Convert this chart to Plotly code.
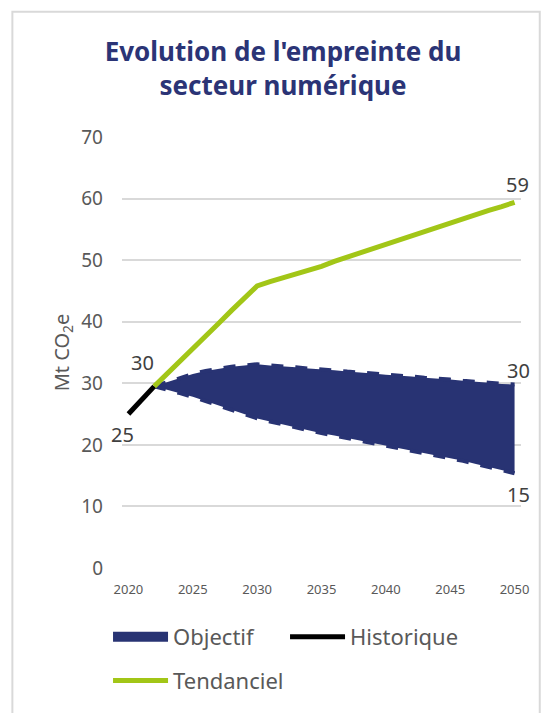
import plotly.graph_objects as go

years_hist = [2020, 2021, 2022]
historique = [25.0, 27.3, 29.5]

years_proj = list(range(2022, 2051))
tendanciel = [29.5, 31.5, 33.6, 35.6, 37.7, 39.7, 41.8, 43.8, 45.8,
              46.5, 47.1, 47.7, 48.3, 49.0, 49.8, 50.5, 51.2, 52.0, 52.7,
              53.4, 54.1, 54.8, 55.5, 56.2, 56.9, 57.5, 58.1, 58.7, 59.4]
objectif_haut = [29.5, 30.2, 30.9, 31.5, 32.0, 32.4, 32.7, 32.9, 33.1,
                 32.9, 32.8, 32.6, 32.4, 32.3, 32.1, 31.9, 31.8, 31.6, 31.4,
                 31.3, 31.1, 30.9, 30.8, 30.6, 30.4, 30.3, 30.1, 29.9, 29.8]
objectif_bas = [29.5, 29.0, 28.4, 27.8, 27.1, 26.4, 25.6, 24.9, 24.3,
                23.8, 23.3, 22.8, 22.3, 21.9, 21.5, 21.1, 20.7, 20.3, 19.9,
                19.5, 19.1, 18.7, 18.3, 17.9, 17.4, 16.9, 16.4, 15.9, 15.4]

x_ticks = [2020, 2025, 2030, 2035, 2040, 2045, 2050]
y_ticks = [0, 10, 20, 30, 40, 50, 60, 70]

NAVY = "#283373"
GREEN = "#A2C617"
GREY_TXT = "#595959"
FONT = "Noto Sans"

fig = go.Figure()

# legend-only entry for the band (solid swatch)
fig.add_trace(go.Scatter(x=[None], y=[None], mode="lines", name="Objectif",
                         line=dict(color=NAVY, width=13), legend="legend"))
fig.add_trace(go.Scatter(x=years_proj, y=objectif_haut, mode="lines",
                         line=dict(color=NAVY, width=4, dash="dash"),
                         showlegend=False, hoverinfo="skip"))
fig.add_trace(go.Scatter(x=years_proj, y=objectif_bas, mode="lines",
                         line=dict(color=NAVY, width=4, dash="dash"),
                         fill="tonexty", fillcolor=NAVY,
                         name="Objectif", showlegend=False))
fig.add_trace(go.Scatter(x=years_hist, y=historique, mode="lines",
                         line=dict(color="#000000", width=5),
                         name="Historique", legend="legend"))
fig.add_trace(go.Scatter(x=years_proj, y=tendanciel, mode="lines",
                         line=dict(color=GREEN, width=5),
                         name="Tendanciel", legend="legend2"))

# data labels
lab_font = dict(family=FONT, size=20, color="#404040")
labels = [
    (years_hist[0], historique[0], -6, -20),
    (years_hist[-1], historique[-1], -12, 24),
    (years_proj[-1], tendanciel[-1], 3, 18),
    (years_proj[-1], objectif_haut[-1], 4, 14),
    (years_proj[-1], objectif_bas[-1], 4, -21),
]
for xv, yv, dx, dy in labels:
    fig.add_annotation(x=xv, y=yv, text=f"{round(yv)}", showarrow=False,
                       xshift=dx, yshift=dy, font=lab_font)

# outer frame
fig.add_shape(type="rect", xref="paper", yref="paper",
              x0=(11 - 122) / 404, x1=(545 - 122) / 404,
              y0=(570.7 - 720) / 433.7, y1=(570.7 - 11) / 433.7,
              line=dict(color="#D9D9D9", width=2), fillcolor="rgba(0,0,0,0)",
              layer="below")

fig.update_layout(
    width=541, height=713,
    margin=dict(l=122, r=15, t=137, b=142),
    paper_bgcolor="white", plot_bgcolor="white",
    font=dict(family=FONT, color=GREY_TXT),
    title=dict(text="<b>Evolution de l'empreinte du<br>secteur numérique</b>",
               x=283 / 541, xanchor="center", xref="container",
               y=1 - 61 / 713, yanchor="middle", yref="container",
               font=dict(family=FONT, size=26, color="#2B3476")),
    xaxis=dict(range=[2019.5, 2050.5], tickvals=x_ticks, showgrid=False,
               zeroline=False, showline=False, ticks="",
               tickfont=dict(size=13, color=GREY_TXT),
               ticklabelstandoff=12),
    yaxis=dict(range=[0, 70], tickvals=y_ticks, showgrid=True,
               gridcolor="#D9D9D9", gridwidth=1.5, zeroline=False,
               showline=False, ticks="",
               tickfont=dict(size=19, color=GREY_TXT),
               ticklabelstandoff=18,
               title=dict(text="Mt CO<sub>2</sub>e", standoff=6,
                          font=dict(size=20, color=GREY_TXT))),
    legend=dict(orientation="h", x=-0.035, xanchor="left",
                y=(570.7 - 640) / 433.7, yanchor="middle",
                font=dict(size=22, color=GREY_TXT), entrywidth=107,
                itemwidth=55, traceorder="normal",
                bgcolor="rgba(0,0,0,0)"),
    legend2=dict(orientation="h", x=-0.035, xanchor="left",
                 y=(570.7 - 684) / 433.7, yanchor="middle",
                 font=dict(size=22, color=GREY_TXT),
                 itemwidth=55, bgcolor="rgba(0,0,0,0)"),
    showlegend=True,
)

fig.write_html("out.html")
